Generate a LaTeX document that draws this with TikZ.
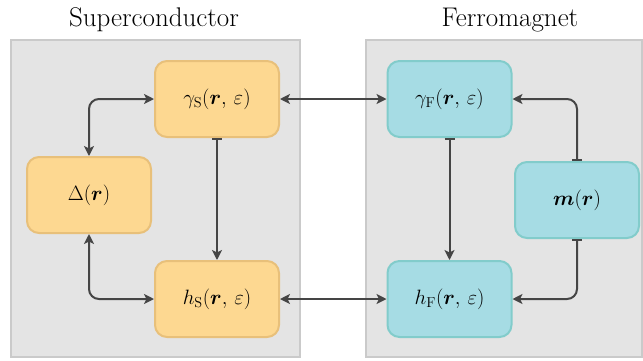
\documentclass[tikz,border=0pt]{standalone}
\usepackage{bm}
\usetikzlibrary{arrows.meta,calc}

\definecolor{panelfill}{HTML}{E4E4E4}
\definecolor{paneldraw}{HTML}{CACACA}
\definecolor{scfill}{HTML}{FDD891}
\definecolor{scdraw}{HTML}{E8C07A}
\definecolor{fmfill}{HTML}{A6DCE4}
\definecolor{fmdraw}{HTML}{82CCCB}
\definecolor{wire}{HTML}{454545}

\tikzset{
  panel/.style={fill=panelfill, draw=paneldraw, line width=2pt},
  box/.style={rounded corners=12pt, line width=2pt, minimum width=124pt,
    minimum height=76pt, inner sep=0pt, font=\fontsize{21.5}{26}\selectfont},
  scbox/.style={box, fill=scfill, draw=scdraw},
  fmbox/.style={box, fill=fmfill, draw=fmdraw},
  title/.style={font=\fontsize{27}{32}\selectfont, anchor=base},
  link/.style={draw=wire, line width=2pt, rounded corners=10pt,
    arrows={-Stealth[length=10pt,width=10pt,inset=2.5pt]}},
  both/.style={link, arrows={Stealth[length=10pt,width=10pt,inset=2.5pt]-Stealth[length=10pt,width=10pt,inset=2.5pt]}},
  barred/.style={link, arrows={Bar[width=10pt,line width=2pt]-Stealth[length=10pt,width=10pt,inset=2.5pt]}},
}

\begin{document}
\begin{tikzpicture}[x=1pt, y=-1pt]
  \useasboundingbox (0,0) rectangle (643,360);

  % the two regions
  \draw[panel] (11,39.5) rectangle (300,357);
  \draw[panel] (366,39.5) rectangle (641.5,357);
  \node[title] (tS) at (154,26) {Superconductor};
  \node[title] (tF) at (510,26) {Ferromagnet};

  % superconductor side
  \node[scbox] (gS) at (217,99) {$\gamma_{\mathrm{S}}(\bm{r},\,\varepsilon)$};
  \node[scbox] (D)  at (89,195) {$\Delta(\bm{r})$};
  \node[scbox] (hS) at (217,299) {$h_{\mathrm{S}}(\bm{r},\,\varepsilon)$};

  % ferromagnet side
  \node[fmbox] (gF) at (449.5,99) {$\gamma_{\mathrm{F}}(\bm{r},\,\varepsilon)$};
  \node[fmbox] (m)  at (577,200) {$\bm{m}(\bm{r})$};
  \node[fmbox] (hF) at (449.5,299) {$h_{\mathrm{F}}(\bm{r},\,\varepsilon)$};

  % couplings
  \draw[both] (gS.west) -| (D.north);
  \draw[both] (D.south) |- (hS.west);
  \draw[barred] (gS.south) -- (hS.north);
  \draw[both] (gS.east) -- (gF.west);
  \draw[both] (hS.east) -- (hF.west);
  \draw[barred] (gF.south) -- (hF.north);
  \draw[barred] (m.north) |- (gF.east);
  \draw[barred] (m.south) |- (hF.east);
\end{tikzpicture}
\end{document}
